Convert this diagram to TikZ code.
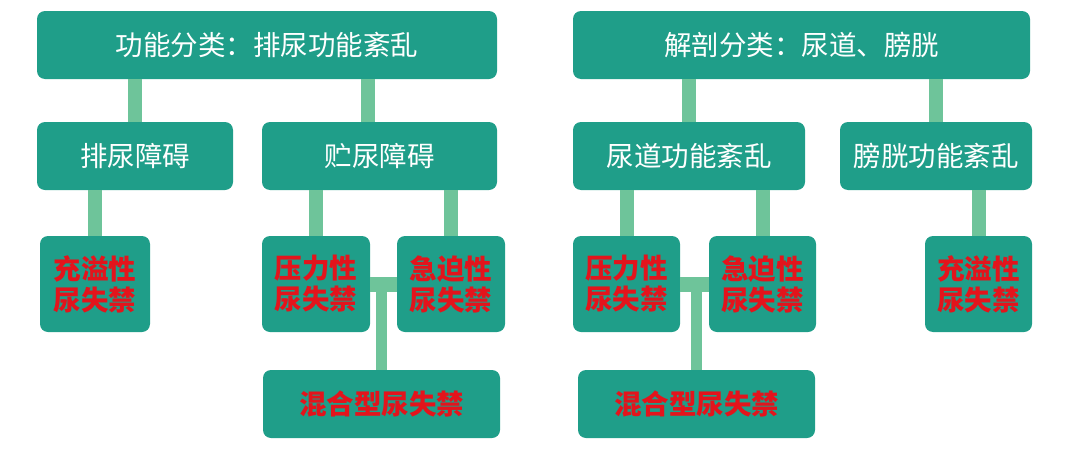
\documentclass[tikz,border=0pt]{standalone}
\usepackage{fontspec}
\setmainfont{Noto Sans CJK SC}
\usetikzlibrary{positioning}
\definecolor{boxteal}{HTML}{1F9E89}
\definecolor{linkgreen}{HTML}{6EC49A}
\definecolor{incred}{HTML}{E3141C}
\begin{document}
\begin{tikzpicture}[x=1pt,y=-1pt,
  box/.style={fill=boxteal,rounded corners=8pt,inner sep=0pt,text=white,font=\fontsize{27.5}{32}\selectfont},
  wide/.style={box,minimum height=68pt},
  small/.style={box,minimum width=108pt,minimum height=96pt,align=center,text=incred,font=\fontsize{27.5}{31}\selectfont\bfseries},
  mixbox/.style={box,minimum width=237pt,minimum height=68pt,text=incred,font=\fontsize{27.5}{32}\selectfont\bfseries},
  link/.style={draw=linkgreen,line width=14pt}]
\useasboundingbox (0,0) rectangle (1080,458);
\coordinate (t1) at (267,45);
\coordinate (t2) at (801.5,45);
\coordinate (m1) at (135,156);
\coordinate (m2) at (379.5,156);
\coordinate (m3) at (689,156);
\coordinate (m4) at (936,156);
\coordinate (b1) at (95,284);
\coordinate (b2) at (316,284);
\coordinate (b3) at (451,284);
\coordinate (b4) at (626.5,284);
\coordinate (b5) at (762.5,284);
\coordinate (b6) at (978.5,284);
\coordinate (x1) at (381.5,404);
\coordinate (x2) at (696.5,404);

  % boxes
  \node (catL) at (t1) [wide,minimum width=460pt] {功能分类：排尿功能紊乱};
  \node (catR) at (t2) [wide,minimum width=457pt] {解剖分类：尿道、膀胱};
  \node (voidL) at (m1) [wide,minimum width=196pt] {排尿障碍};
  \node (storeL) at (m2) [wide,minimum width=235pt] {贮尿障碍};
  \node (urethR) at (m3) [wide,minimum width=232pt] {尿道功能紊乱};
  \node (bladR) at (m4) [wide,minimum width=192pt] {膀胱功能紊乱};

  \draw[link] (voidL.north) -- (voidL.north |- catL.south);
  \draw[link] ([xshift=-12pt]storeL.north) -- ([xshift=-12pt]storeL.north |- catL.south);
  \draw[link] (urethR.north) -- (urethR.north |- catR.south);
  \draw[link] (bladR.north) -- (bladR.north |- catR.south);

  \node (overL) at (b1) [small,minimum width=110pt] {充溢性\\尿失禁};
  \node (stressL) at (b2) [small] {压力性\\尿失禁};
  \node (urgeL) at (b3) [small] {急迫性\\尿失禁};
  \node (stressR) at (b4) [small,minimum width=107pt] {压力性\\尿失禁};
  \node (urgeR) at (b5) [small,minimum width=107pt] {急迫性\\尿失禁};
  \node (overR) at (b6) [small,minimum width=107pt] {充溢性\\尿失禁};
  \node (mixL) at (x1) [mixbox] {混合型尿失禁};
  \node (mixR) at (x2) [mixbox] {混合型尿失禁};

  % connectors
  \draw[link] (overL.north) -- (overL.north |- voidL.south);
  \draw[link] (stressL.north) -- (stressL.north |- storeL.south);
  \draw[link] (urgeL.north) -- (urgeL.north |- storeL.south);
  \draw[link] (stressR.north) -- (stressR.north |- urethR.south);
  \draw[link] (urgeR.north) -- (urgeR.north |- urethR.south);
  \draw[link] (overR.north) -- (overR.north |- bladR.south);

  \draw[link,line width=15pt] (stressL.east) -- (urgeL.west);
  \draw[link,line width=11pt] (mixL.north) -- (mixL.north |- stressL.east);
  \draw[link,line width=15pt] (stressR.east) -- (urgeR.west);
  \draw[link,line width=11pt] (mixR.north) -- (mixR.north |- stressR.east);
\end{tikzpicture}
\end{document}
